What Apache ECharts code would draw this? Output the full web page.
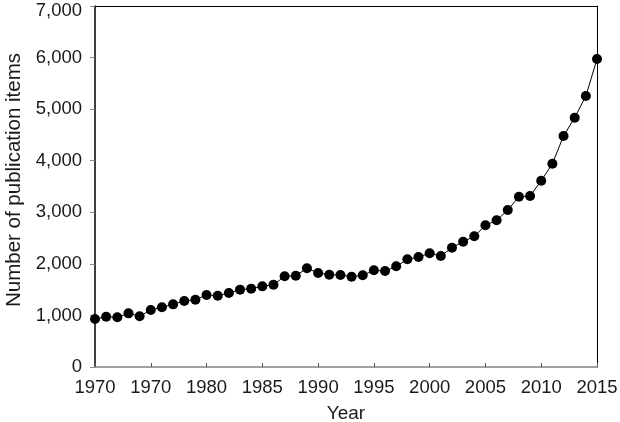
<!DOCTYPE html>
<html><head><meta charset="utf-8">
<script src="https://cdn.jsdelivr.net/npm/echarts@6/dist/echarts.min.js"></script>
<style>html,body{margin:0;padding:0;background:#fff}#c{width:620px;height:422px}</style>
</head><body><div id="c"></div>
<script>
const years = [1970,1971,1972,1973,1974,1975,1976,1977,1978,1979,1980,1981,1982,1983,1984,1985,1986,1987,1988,1989,1990,1991,1992,1993,1994,1995,1996,1997,1998,1999,2000,2001,2002,2003,2004,2005,2006,2007,2008,2009,2010,2011,2012,2013,2014,2015];
const items = [930,975,963,1040,983,1105,1157,1215,1280,1305,1396,1383,1435,1500,1518,1564,1596,1758,1771,1914,1823,1790,1784,1751,1778,1875,1862,1952,2088,2133,2205,2152,2314,2430,2534,2747,2844,3044,3302,3316,3613,3940,4479,4834,5255,5972];
const xTickLabels = {1970:"1970",1975:"1970",1980:"1980",1985:"1985",1990:"1990",1995:"1995",2000:"2000",2005:"2005",2010:"2010",2015:"2015"};
const yTickLabels = {0:"0",1000:"1,000",2000:"2,000",3000:"3,000",4000:"4,000",5000:"5,000",6000:"6,000",7000:"7,000"};

const font = '"Liberation Sans", Arial, Helvetica, sans-serif';
const chart = echarts.init(document.getElementById('c'), null, {renderer:'canvas'});
chart.setOption({
  animation:false,
  grid:{left:95,right:23,top:6,bottom:55,containLabel:false,outerBoundsMode:'none'},
  xAxis:[{
    type:'value',min:1970,max:2015,interval:5,
    name:'Year',nameLocation:'middle',nameGap:37,
    nameTextStyle:{fontFamily:font,fontSize:19,color:'#1a1a1a'},
    axisLine:{show:true,lineStyle:{color:'#a0a0a0',width:2}},
    axisTick:{show:true,inside:true,length:4,lineStyle:{color:'#555',width:1}},
    axisLabel:{margin:11,fontFamily:font,fontSize:18.5,color:'#1a1a1a',formatter:v=>xTickLabels[v]||''},
    splitLine:{show:false}
  },{
    type:'value',position:'top',min:1970,max:2015,
    axisLine:{show:true,onZero:false,lineStyle:{color:'#000',width:1}},
    axisTick:{show:false},axisLabel:{show:false},splitLine:{show:false}
  }],
  yAxis:[{
    type:'value',min:0,max:7000,interval:1000,
    name:'Number of publication items',nameLocation:'middle',nameGap:69,
    nameTextStyle:{fontFamily:font,fontSize:20.5,color:'#1a1a1a',padding:[0,0,0,13]},
    axisLine:{show:true,onZero:false,lineStyle:{color:'#000',width:1.5}},
    axisTick:{show:true,length:5,lineStyle:{color:'#888',width:1}},
    axisLabel:{margin:13,fontFamily:font,fontSize:18.5,color:'#1a1a1a',
      formatter:v=>v===7000?'{top|'+yTickLabels[v]+'}':(yTickLabels[v]||''),
      rich:{top:{fontFamily:font,fontSize:18.5,color:'#1a1a1a',padding:[9,0,0,0]}}},
    splitLine:{show:false}
  },{
    type:'value',position:'right',min:0,max:7000,
    axisLine:{show:true,onZero:false,lineStyle:{color:'#000',width:1}},
    axisTick:{show:false},axisLabel:{show:false},splitLine:{show:false}
  }],
  series:[{
    type:'line',
    data:years.map((y,i)=>[y,items[i]]),
    symbol:'circle',symbolSize:10,
    lineStyle:{color:'#000',width:1},
    itemStyle:{color:'#000'},
    clip:false
  }]
});
</script></body></html>
